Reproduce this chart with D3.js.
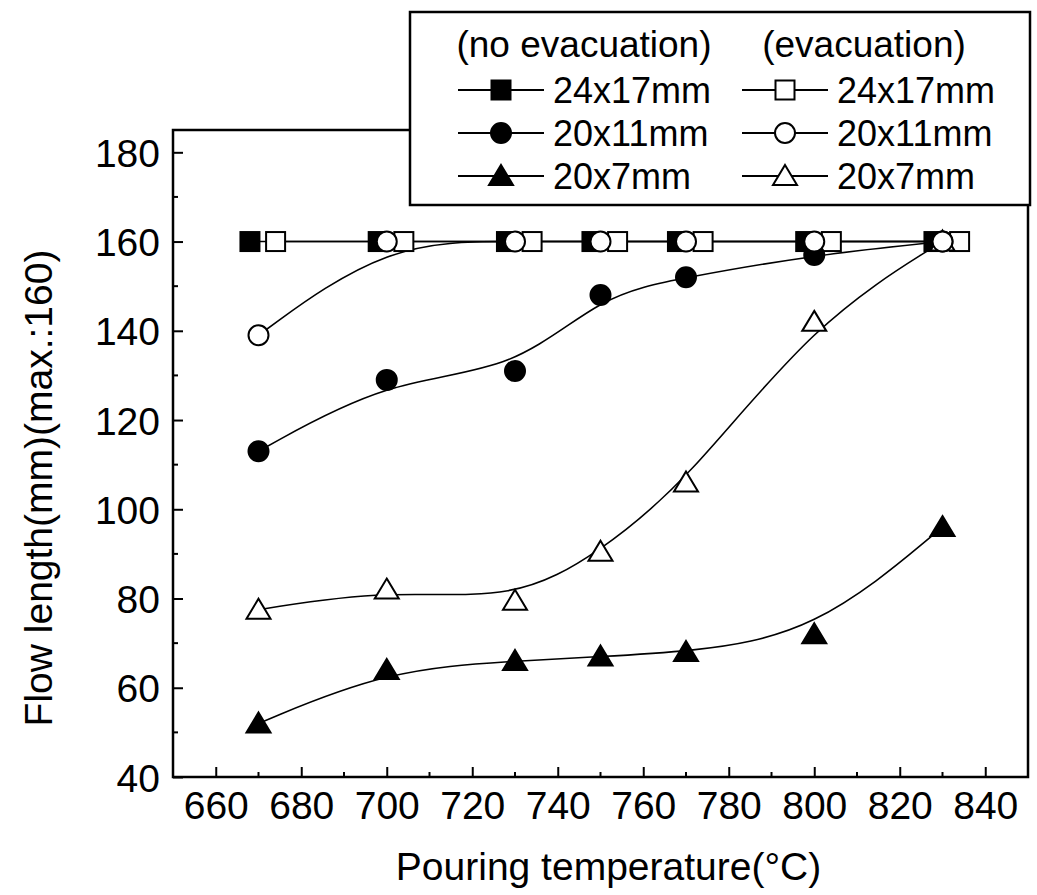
<!DOCTYPE html>
<html>
<head>
<meta charset="utf-8">
<script src="https://cdn.jsdelivr.net/npm/d3@7"></script>
<style>
  body { margin: 0; background: #fff; }
  text { font-family: "Liberation Sans", Arial, sans-serif; fill: #000; }
</style>
</head>
<body>
<script>
// 数据
var temps = [670, 700, 730, 750, 770, 800, 830];
// square markers are drawn a little off the real temperature in the source figure
var tempsSqFilled = [668, 698, 728, 748, 768, 798, 828];
var tempsSqOpen = [674, 704, 734, 754, 774, 804, 834];
var sq24x17NoEvac = [160, 160, 160, 160, 160, 160, 160];
var sq24x17Evac = [160, 160, 160, 160, 160, 160, 160];
var c20x11NoEvac = [113, 129, 131, 148, 152, 157, 160];
var c20x11Evac = [139, 160, 160, 160, 160, 160, 160];
var t20x7NoEvac = [52, 64, 66, 67, 68, 72, 96];
var t20x7Evac = [77.5, 82, 79.5, 90.5, 106, 142, 160];
var xTicks = [660, 680, 700, 720, 740, 760, 780, 800, 820, 840];
var yTicks = [40, 60, 80, 100, 120, 140, 160, 180];

var width = 1037, height = 895;
var plotL = 173, plotR = 1028, plotT = 130, plotB = 777;

var svg = d3.select("body").append("svg").attr("width", width).attr("height", height);

var x = d3.scaleLinear().domain([650, 850]).range([plotL, plotR]);
var y = d3.scaleLinear().domain([40, 185]).range([plotB, plotT]);

//坐标轴
var xAxis = d3.axisBottom(x).tickValues(xTicks).tickSize(-10).tickPadding(14);
var yAxis = d3.axisLeft(y).tickValues(yTicks).tickSize(-10).tickPadding(13);
var gx = svg.append("g").attr("transform", "translate(0," + plotB + ")").call(xAxis);
var gy = svg.append("g").attr("transform", "translate(" + plotL + ",0)").call(yAxis);
[gx, gy].forEach(function (g) {
    g.attr("font-family", null).attr("font-size", null);
    g.select(".domain").remove();
    g.selectAll(".tick line").attr("stroke", "#000").attr("stroke-width", 2);
    g.selectAll(".tick text").style("font-size", "39px").attr("fill", "#000");
});
gy.selectAll(".tick text").attr("dy", "0.36em");
// minor ticks
svg.append("g").selectAll("line").data(d3.range(650, 851, 10).filter(function (d) { return xTicks.indexOf(d) < 0; }))
    .enter().append("line")
    .attr("x1", function (d) { return x(d); }).attr("x2", function (d) { return x(d); })
    .attr("y1", plotB).attr("y2", plotB - 5)
    .attr("stroke", "#000").attr("stroke-width", 2);
svg.append("g").selectAll("line").data(d3.range(50, 180, 20))
    .enter().append("line")
    .attr("y1", function (d) { return y(d); }).attr("y2", function (d) { return y(d); })
    .attr("x1", plotL).attr("x2", plotL + 5)
    .attr("stroke", "#000").attr("stroke-width", 2);

// 框
svg.append("rect").attr("x", plotL).attr("y", plotT).attr("width", plotR - plotL).attr("height", plotB - plotT)
    .attr("fill", "none").attr("stroke", "#000").attr("stroke-width", 2.5);

// 标题
svg.append("text").attr("x", (plotL + plotR) / 2 + 8).attr("y", 880).attr("text-anchor", "middle")
    .style("font-size", "39px").text("Pouring temperature(°C)");
svg.append("text").attr("transform", "translate(52," + 488 + ") rotate(-90)").attr("text-anchor", "middle")
    .style("font-size", "39px").text("Flow length(mm)(max.:160)");

//曲线与标记
var series = [
    { xs: tempsSqFilled, ys: sq24x17NoEvac, shape: "square", fill: "#000" },
    { xs: tempsSqOpen, ys: sq24x17Evac, shape: "square", fill: "#fff" },
    { xs: temps, ys: c20x11NoEvac, shape: "circle", fill: "#000" },
    { xs: temps, ys: t20x7NoEvac, shape: "triangle", fill: "#000" },
    { xs: temps, ys: t20x7Evac, shape: "triangle", fill: "#fff" },
    { xs: temps, ys: c20x11Evac, shape: "circle", fill: "#fff" }
];
var line = d3.line().curve(d3.curveBasis)
    .x(function (d) { return x(d[0]); })
    .y(function (d) { return y(d[1]); });

function marker(g, shape, fill, cx, cy) {
    if (shape == "square") {
        g.append("rect").attr("x", cx - 9.5).attr("y", cy - 9.5).attr("width", 19).attr("height", 19)
            .attr("fill", fill).attr("stroke", "#000").attr("stroke-width", 2);
    } else if (shape == "circle") {
        g.append("circle").attr("cx", cx).attr("cy", cy).attr("r", 10)
            .attr("fill", fill).attr("stroke", "#000").attr("stroke-width", 2);
    } else {
        g.append("path").attr("d", "M" + cx + "," + (cy - 11) + "L" + (cx + 12) + "," + (cy + 9) + "L" + (cx - 12) + "," + (cy + 9) + "Z")
            .attr("fill", fill).attr("stroke", "#000").attr("stroke-width", 2).attr("stroke-linejoin", "miter");
    }
}

series.forEach(function (s) {
    var pts = s.xs.map(function (t, i) { return [t, s.ys[i]]; });
    svg.append("path").attr("d", line(pts)).attr("fill", "none").attr("stroke", "#000").attr("stroke-width", 1.6);
});
series.forEach(function (s) {
    var g = svg.append("g");
    s.xs.forEach(function (t, i) {
        marker(g, s.shape, s.fill, x(t), y(s.ys[i]));
    });
});

//图例
var legend = svg.append("g");
legend.append("rect").attr("x", 410).attr("y", 12).attr("width", 620).attr("height", 193)
    .attr("fill", "#fff").attr("stroke", "#000").attr("stroke-width", 2.5);
legend.append("text").attr("x", 584).attr("y", 57).attr("text-anchor", "middle").style("font-size", "37px").text("(no evacuation)");
legend.append("text").attr("x", 864).attr("y", 57).attr("text-anchor", "middle").style("font-size", "37px").text("(evacuation)");
var legendRows = [
    { label: "24x17mm", shape: "square" },
    { label: "20x11mm", shape: "circle" },
    { label: "20x7mm", shape: "triangle" }
];
legendRows.forEach(function (r, i) {
    var ly = 90 + i * 43;
    [{ x0: 458, fill: "#000" }, { x0: 742, fill: "#fff" }].forEach(function (c) {
        legend.append("line").attr("x1", c.x0).attr("x2", c.x0 + 86).attr("y1", ly).attr("y2", ly)
            .attr("stroke", "#000").attr("stroke-width", 2);
        marker(legend, r.shape, c.fill, c.x0 + 43, ly);
        legend.append("text").attr("x", c.x0 + 95).attr("y", ly + 13).style("font-size", "36px").text(r.label);
    });
});
</script>
</body>
</html>
